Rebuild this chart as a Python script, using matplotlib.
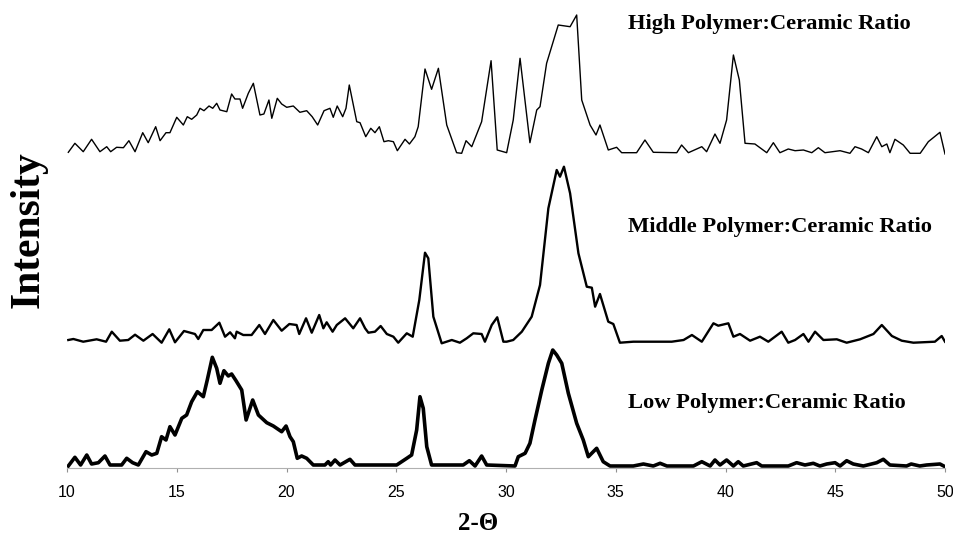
import numpy as np
import matplotlib
matplotlib.use('Agg')
import matplotlib.pyplot as plt

# 2-theta positions and intensities (arbitrary units, relative to each trace baseline)
high_x = [10.06, 10.36, 10.74, 11.12, 11.5, 11.81, 11.99, 12.26, 12.57, 12.82, 13.1, 13.45, 13.7, 14.04,
          14.24, 14.51, 14.69, 15.0, 15.3, 15.48, 15.68, 15.91, 16.06, 16.24, 16.47, 16.64, 16.82, 16.97,
          17.28, 17.5, 17.65, 17.88, 18.0, 18.26, 18.49, 18.79, 18.97, 19.2, 19.33, 19.58, 19.78, 20.01,
          20.31, 20.61, 20.92, 21.17, 21.42, 21.71, 21.98, 22.13, 22.31, 22.56, 22.71, 22.86, 23.2, 23.35,
          23.61, 23.84, 24.03, 24.23, 24.44, 24.64, 24.87, 25.05, 25.4, 25.6, 25.85, 26.0, 26.31, 26.61,
          26.92, 27.3, 27.75, 27.98, 28.18, 28.44, 28.89, 29.32, 29.6, 30.03, 30.33, 30.64, 31.09, 31.4,
          31.55, 31.85, 32.38, 32.92, 33.22, 33.45, 33.83, 34.1, 34.28, 34.66, 35.04, 35.27, 35.95, 36.33,
          36.71, 37.78, 38.0, 38.31, 38.92, 39.14, 39.52, 39.75, 40.05, 40.36, 40.63, 40.89, 41.34, 41.88,
          42.18, 42.48, 42.86, 43.17, 43.55, 43.93, 44.23, 44.53, 45.22, 45.67, 45.9, 46.2, 46.51, 46.89,
          47.12, 47.35, 47.49, 47.72, 48.1, 48.41, 48.87, 49.24, 49.77, 50.0]
high_y = [0.7, 9.7, 1.3, 13.7, 1.3, 6.3, 1.3, 5.7, 5.3, 12.3, 1.3, 20.3, 10.3, 26.3,
          12.3, 20.3, 20.3, 35.7, 28, 36.3, 33.7, 38, 44.7, 42.3, 47, 44.7, 49.7, 43,
          41.3, 59, 54, 54, 44.7, 59.7, 69.7, 38, 39, 53, 34.7, 54.7, 49, 45.7,
          47, 40.7, 42.3, 36.3, 28, 42.3, 44.7, 35.7, 47, 36.3, 44.7, 68, 31.3, 30.3,
          16.3, 24.7, 20.3, 26.3, 11.3, 12.3, 11.3, 2.3, 13.7, 9, 16.3, 26.3, 84, 63.7,
          84.7, 28, 0.3, -0.3, 12.3, 6.3, 31.3, 92.3, 3, 0.3, 33, 94.7, 10.3, 43,
          46.3, 89.7, 128, 126.3, 138, 53, 28, 18, 28, 3, 5.7, 0.3, 0.3, 13,
          0.7, 0.3, 8, 0.3, 6.3, 1.3, 19, 9.7, 33, 98, 73, 9.7, 9, 0.3,
          10.3, 0.3, 4, 2.3, 3, 0.3, 5.3, 0.3, 2.3, -0.3, 6.3, 4, 0.3, 16.3,
          6.3, 9, 0.3, 13.7, 8, -0.3, -0.3, 11.3, 20.7, -1]

mid_x = [10.06, 10.29, 10.74, 11.35, 11.78, 12.04, 12.41, 12.79, 13.1, 13.48, 13.9, 14.31, 14.66, 14.92,
         15.33, 15.83, 15.98, 16.21, 16.59, 16.94, 17.2, 17.43, 17.65, 17.73, 18.03, 18.41, 18.76, 19.02,
         19.4, 19.78, 20.13, 20.46, 20.58, 20.89, 21.15, 21.49, 21.68, 21.83, 22.1, 22.29, 22.67, 23.04,
         23.35, 23.58, 23.73, 24.03, 24.29, 24.57, 24.87, 25.09, 25.48, 25.75, 26.05, 26.31, 26.46, 26.69,
         27.07, 27.53, 27.9, 28.21, 28.51, 28.89, 29.04, 29.35, 29.6, 29.88, 30.03, 30.33, 30.72, 31.17,
         31.55, 31.93, 32.31, 32.46, 32.64, 32.92, 33.3, 33.68, 33.91, 34.06, 34.28, 34.66, 34.89, 35.19,
         35.8, 37.55, 38.09, 38.47, 38.92, 39.45, 39.67, 40.13, 40.36, 40.66, 41.12, 41.57, 41.95, 42.56,
         42.86, 43.17, 43.55, 43.78, 44.08, 44.46, 45.07, 45.52, 46.13, 46.74, 47.12, 47.58, 48.03, 48.56,
         49.54, 49.85, 50.0]
mid_y = [2.5, 3.5, 0.8, 3.2, 0.8, 10.8, 1.8, 2.5, 7.8, 1.8, 8.5, -0.2, 13.2, 0.2,
         11.5, 8.5, 3.5, 12.5, 12.5, 19.8, 5.8, 10.2, 4.2, 10.8, 7.5, 7.5, 17.5, 8.5,
         22.5, 11.8, 18.5, 17.5, 8.5, 24.2, 9.8, 27.5, 14.2, 20.2, 10.8, 17.5, 24.2, 14.2,
         24.2, 14.2, 9.8, 10.8, 16.5, 8.5, 5.8, -0.2, 9.2, 5.8, 42.5, 89.8, 84.2, 25.8,
         -0.8, 2.5, -0.2, 4.2, 9.2, 8.5, 0.8, 17.5, 25.2, 0.8, 0.8, 2.5, 10.8, 25.8,
         57.5, 134.2, 172.5, 165.8, 175.8, 149.2, 89.2, 55.8, 54.8, 35.8, 48.5, 20.8, 18.5, -0.2,
         0.8, 0.8, 2.5, 7.5, 0.8, 19.2, 16.8, 19.2, 5.8, 8.5, 1.8, 5.8, 0.8, 10.8,
         -0.2, 2.5, 8.5, 0.8, 10.8, 2.5, 3.2, -0.2, 3.2, 8.5, 17.5, 6.5, 1.8, -0.2,
         0.8, 6.5, 0.8]

low_x = [10.06, 10.36, 10.62, 10.9, 11.12, 11.43, 11.73, 11.96, 12.49, 12.72, 12.99, 13.25, 13.6, 13.86,
         14.09, 14.31, 14.51, 14.69, 14.92, 15.23, 15.45, 15.68, 15.94, 16.21, 16.39, 16.62, 16.82, 16.97,
         17.15, 17.35, 17.5, 17.7, 17.96, 18.16, 18.46, 18.72, 19.1, 19.4, 19.78, 19.98, 20.16, 20.31,
         20.49, 20.69, 20.92, 21.22, 21.75, 21.9, 22.01, 22.21, 22.44, 22.89, 23.12, 25.02, 25.48, 25.7,
         25.93, 26.08, 26.23, 26.39, 26.61, 28.05, 28.33, 28.59, 28.89, 29.12, 30.41, 30.56, 30.87, 31.09,
         31.32, 31.63, 31.93, 32.13, 32.31, 32.54, 32.84, 33.22, 33.52, 33.75, 34.13, 34.43, 34.74, 35.8,
         36.26, 36.71, 37.02, 37.33, 38.54, 38.92, 39.3, 39.52, 39.75, 40.05, 40.36, 40.58, 40.81, 41.42,
         41.65, 42.86, 43.24, 43.62, 44.0, 44.3, 44.61, 44.99, 45.22, 45.52, 45.82, 46.28, 46.89, 47.19,
         47.49, 48.25, 48.46, 48.85, 49.16, 49.77, 50.0]
low_y = [0, 8.7, 1, 11, 2, 3.3, 10, 1, 1, 7.7, 3.3, 1, 14.3, 11,
         12.7, 29.3, 26, 39.3, 31, 47.7, 51, 64.3, 74.3, 69.3, 86, 108.7, 97.7, 82.7,
         95.3, 90, 92, 85.3, 76, 46, 66, 51, 43.3, 40, 34.3, 40, 29.3, 24.3,
         7.7, 10, 7.7, 1, 1, 4.3, 1, 6, 1, 6.7, 1, 1, 7.7, 11,
         36, 69.3, 57.7, 19.3, 1, 1, 5.3, 0, 10, 1, 0, 9.3, 12.7, 22.7,
         46, 76, 102.7, 116, 111, 102.7, 72.7, 42.7, 26, 9.3, 17.7, 4.3, 0, 0,
         2, 0, 2.7, 0, 0, 4.3, 0, 6, 1, 6, 0, 4.3, 0, 3.3,
         0, 0, 3.3, 1, 2.7, 0, 2, 3.3, 0, 5.3, 2, 0, 3.3, 6.7,
         1, 0, 2, 0, 1, 2, -0.7]

labels = ['High Polymer:Ceramic Ratio', 'Middle Polymer:Ceramic Ratio', 'Low Polymer:Ceramic Ratio']
ticks = [10, 15, 20, 25, 30, 35, 40, 45, 50]

# stacking offsets and line weights
offsets = [315, 125.5, 2]
widths = [1.0, 1.7, 2.6]
label_y = [444, 241, 65]

fig = plt.figure(figsize=(9.54, 5.37), dpi=100)
ax = fig.add_axes([67 / 954, 69 / 537, 878 / 954, 463 / 537])

series = [(high_x, high_y), (mid_x, mid_y), (low_x, low_y)]
for (x, y), off, lw, lab, ly in zip(series, offsets, widths, labels, label_y):
    ax.plot(x, np.array(y) + off, color='black', lw=lw, solid_joinstyle='round')
    ax.text(35.56, ly, lab, ha='left', va='center', fontsize=16.2,
            fontweight='bold', family='Liberation Serif')

ax.set_xlim(10, 50)
ax.set_ylim(0, 463)
ax.set_yticks([])
for s in ['top', 'right', 'left']:
    ax.spines[s].set_visible(False)
ax.spines['bottom'].set_color('#b0b0b0')
ax.spines['bottom'].set_linewidth(0.8)
ax.set_xticks(ticks)
ax.tick_params(axis='x', direction='out', length=3, color='#909090', pad=9, labelsize=11.5)
for t in ax.get_xticklabels():
    t.set_family(['Liberation Sans Narrow', 'Liberation Sans'])

fig.text(29 / 954, 1 - 230 / 537, 'Intensity', rotation=90, ha='center', va='center',
         fontsize=30, fontweight='bold', family='Liberation Serif')
fig.text(478 / 954, 1 - 523 / 537, '2-Θ', ha='center', va='center',
         fontsize=18, fontweight='bold', family='Liberation Serif')

fig.savefig('out.png', dpi=100)
